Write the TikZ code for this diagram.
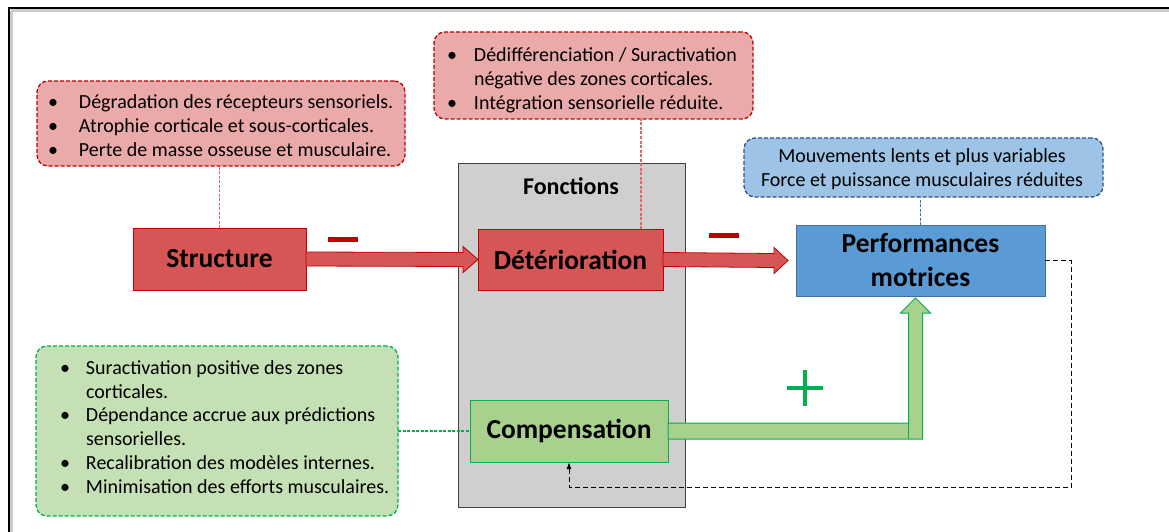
\documentclass[tikz,border=0pt]{standalone}
\usepackage{fontspec}
\setmainfont{Carlito}
\usetikzlibrary{calc,arrows.meta}
\definecolor{redfill}{RGB}{214,86,86}
\definecolor{redline}{RGB}{192,0,0}
\definecolor{pinkfill}{RGB}{235,170,170}
\definecolor{pinkline}{RGB}{232,100,100}
\definecolor{grayfill}{RGB}{208,206,206}
\definecolor{grayline}{RGB}{64,64,64}
\definecolor{bluefill}{RGB}{91,155,213}
\definecolor{blueline}{RGB}{65,113,156}
\definecolor{lbluefill}{RGB}{157,195,230}
\definecolor{lblueline}{RGB}{47,85,125}
\definecolor{greenfill}{RGB}{169,209,142}
\definecolor{greenline}{RGB}{0,176,80}
\definecolor{lgreenfill}{RGB}{197,224,180}
\tikzset{
  box/.style={rectangle, inner sep=0pt, outer sep=0pt, anchor=north west, line width=1pt, font=\fontsize{27.5}{33}\selectfont\bfseries},
  redbox/.style={box, fill=redfill, draw=redline},
  bluebox/.style={box, fill=bluefill, draw=blueline},
  greenbox/.style={box, fill=greenfill, draw=greenline},
  graybox/.style={box, fill=grayfill, draw=grayline},
  callout/.style={rectangle, rounded corners=11pt, inner sep=0pt, outer sep=0pt, anchor=north west, line width=1.3pt, dash pattern=on 4pt off 2pt},
  redcall/.style={callout, fill=pinkfill, draw=redline},
  bluecall/.style={callout, fill=lbluefill, draw=lblueline},
  greencall/.style={callout, fill=lgreenfill, draw=greenline},
  bodytext/.style={inner sep=0pt, outer sep=0pt, align=left, font=\fontsize{20}{23.8}\selectfont},
  thindash/.style={line width=1.2pt, dash pattern=on 3pt off 1.5pt},
  redarrow/.style={fill=redfill, draw=redline, line width=0.8pt},
  greenarrow/.style={fill=greenfill, draw=greenline, line width=1pt},
}
\newcommand{\bt}{\textbullet}
\begin{document}
\begin{tikzpicture}[x=1pt,y=-1pt]
\useasboundingbox (0,0) rectangle (1169,532);
% frame
\draw[gray!40, line width=3pt] (11,11) -- (11,532);
\draw[gray!40, line width=3pt] (11,11) -- (1169,11);
\draw[black, line width=2pt] (9,532) -- (9,8) -- (1169,8);

% Fonctions group
\node[graybox, minimum width=227pt, minimum height=344pt] (fonct) at (458,163) {};
\node[inner sep=0pt, font=\fontsize{24}{28}\selectfont\bfseries] (fonctlabel) at (571,186) {Fonctions};

% main boxes
\node[redbox, minimum width=173pt, minimum height=62pt] (structure) at (133,228) {Structure};
\node[redbox, minimum width=185pt, minimum height=61pt] (det) at (478,229) {Détérioration};
\node[bluebox, minimum width=249pt, minimum height=71pt, align=center, font=\fontsize{27.5}{34}\selectfont\bfseries] (perf) at (796,225) {Performances\\motrices};
\node[greenbox, minimum width=198pt, minimum height=62pt] (comp) at (470,400) {Compensation};

% callouts
\node[redcall, minimum width=368pt, minimum height=85pt] (redA) at (37,81) {};
\node[bodytext, anchor=west] (redAtext) at (48,127.5) {\begin{tabular}{@{}p{31pt}@{}l@{}}
\bt & Dégradation des récepteurs sensoriels.\\
\bt & Atrophie corticale et sous-corticales.\\
\bt & Perte de masse osseuse et musculaire.\end{tabular}};
\node[redcall, minimum width=319pt, minimum height=87pt] (redB) at (434,32) {};
\node[bodytext, anchor=west] (redBtext) at (447,81) {\begin{tabular}{@{}p{27pt}@{}l@{}}
\bt & Dédifférenciation / Suractivation\\
 & négative des zones corticales.\\
\bt & Intégration sensorielle réduite.\end{tabular}};
\node[bluecall, minimum width=359pt, minimum height=59pt] (blueC) at (744,138) {};
\node[bodytext, align=center, font=\fontsize{20}{24}\selectfont] (blueCtext) at (922,169) {Mouvements lents et plus variables\\Force et puissance musculaires réduites};
\node[greencall, minimum width=362pt, minimum height=170pt] (greenD) at (36,346) {};
\node[bodytext, anchor=west] (greenDtext) at (60,429) {\begin{tabular}{@{}p{26pt}@{}l@{}}
\bt & Suractivation positive des zones\\
 & corticales.\\
\bt & Dépendance accrue aux prédictions\\
 & sensorielles.\\
\bt & Recalibration des modèles internes.\\
\bt & Minimisation des efforts musculaires.\end{tabular}};

% dashed connectors
\draw[pinkline, thindash] (structure.north) -- (structure.north |- redA.south);
\coordinate (c2) at ($(det.north east)+(-22,0)$);
\draw[pinkline, thindash] (c2) -- (c2 |- redB.south);
\draw[blueline, thindash] (perf.north) -- (perf.north |- blueC.south);
\draw[greenline, thindash] (greenD.east) -- (comp.west);
\draw[black, line width=1pt, dash pattern=on 5pt off 3pt, -{Latex[length=7pt,width=5pt]}]
  (perf.east) -- ++(26,0) |- ($(comp.south)+(0,25)$) -- (comp.south);

% block arrows
\draw[redarrow] ($(structure.east)+(0,-7)$) -- ($(det.west)+(-15,-7)$) -- ($(det.west)+(-15,-13)$) -- ($(det.west)+(0,0)$) -- ($(det.west)+(-15,13)$) -- ($(det.west)+(-15,7)$) -- ($(structure.east)+(0,7)$) -- cycle;
\draw[redarrow] ($(det.east)+(0,-7)$) -- ($(perf.west)+(-22,-7)$) -- ($(perf.west)+(-22,-13)$) -- ($(perf.west)+(-8,0)$) -- ($(perf.west)+(-22,13)$) -- ($(perf.west)+(-22,7)$) -- ($(det.east)+(0,7)$) -- cycle;
\coordinate (vx) at ($(perf.south)+(-5,0)$);
\draw[greenarrow] ($(comp.east)+(0,-8)$) -- ($(vx |- comp.east)+(-7,-8)$) -- ($(vx)+(-7,17)$) -- ($(vx)+(-15,17)$) -- ($(vx)+(0,2)$) -- ($(vx)+(15,17)$) -- ($(vx)+(7,17)$) -- ($(vx |- comp.east)+(7,8)$) -- ($(comp.east)+(0,8)$) -- cycle;
\draw[greenline, line width=1pt] ($(vx |- comp.east)+(-7,-8)$) -- ($(vx |- comp.east)+(-7,8)$);

% signs
\fill[redline] (328,237) rectangle (358,242);
\fill[redline] (709,233) rectangle (739,238);
\fill[greenline] (787,386) rectangle (823,390);
\fill[greenline] (803,370) rectangle (807,406);
\end{tikzpicture}
\end{document}
